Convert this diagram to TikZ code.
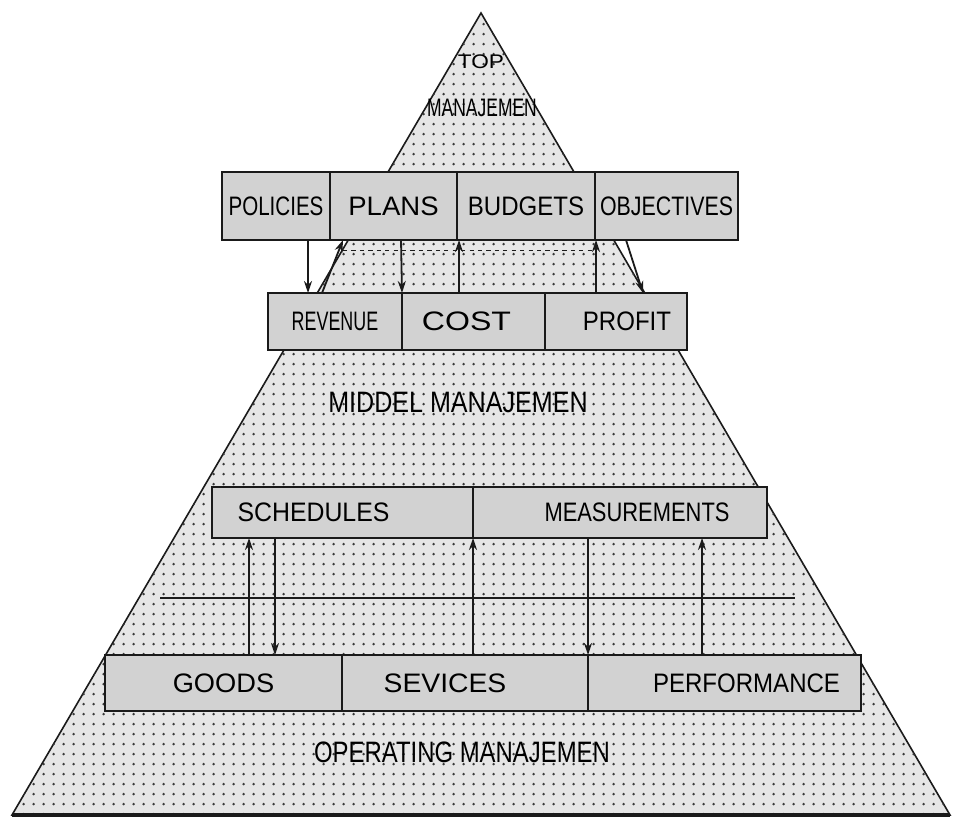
\documentclass[tikz,border=0pt]{standalone}
\usepackage{fontspec}
\setmainfont{Liberation Sans}
\usepackage{graphicx}
\usetikzlibrary{arrows.meta,positioning,patterns.meta}
\definecolor{ink}{HTML}{1A1A1A}
\definecolor{boxgray}{HTML}{D2D2D2}
\definecolor{pyrgray}{HTML}{E6E6E6}
\definecolor{dotgray}{HTML}{3A3A3A}
\newcommand{\hsq}[2]{\scalebox{#1}[1]{#2}}
\tikzdeclarepattern{
  name=dotgrid, type=uncolored,
  bounding box={(0,0) and (2.4mm,2.6mm)},
  tile size={(2.4mm,2.6mm)},
  code={\fill (1.2mm,1.3mm) circle (0.36mm);}
}
\tikzset{
  pyramid/.style={draw=ink,line width=0.4mm,fill=pyrgray,
                  postaction={pattern=dotgrid,pattern color=dotgray}},
  tierbox/.style={draw=ink,fill=boxgray,line width=0.5mm,
                  outer sep=0pt,inner sep=0pt,font=\fontsize{19}{21}\selectfont},
  planrow/.style={tierbox,minimum height=17mm},
  finrow/.style={tierbox,minimum height=14.25mm},
  schedrow/.style={tierbox,minimum height=12.75mm},
  outrow/.style={tierbox,minimum height=14mm},
  levellbl/.style={font=\fontsize{21}{23}\selectfont,inner sep=1pt},
  arr/.style={-{Stealth[length=3mm,width=2mm]},line width=0.45mm,draw=ink}
}

\begin{document}
\begin{tikzpicture}[x=0.25mm,y=-0.25mm]
  \useasboundingbox (0,0) rectangle (957,818);
  % pyramid
  \draw[pyramid] (481,13) -- (950,815) -- (12,815) -- cycle;
  \draw[ink,line width=0.8mm] (12,815) -- (950,815);
  \draw[ink,line width=0.25mm,dashed] (343,250) -- (592,250);
  \draw[ink,line width=0.55mm] (160,598) -- (795,598);

  \node[levellbl,font=\fontsize{14}{16}\selectfont] (toptxt) at (481,62) {\hsq{1.15}{TOP}};
  \node[levellbl,font=\fontsize{18}{20}\selectfont] (topmgr) at (482,108) {\hsq{0.69}{MANAJEMEN}};
  \node[levellbl] (midmgr) at (458,402) {\hsq{0.85}{MIDDEL MANAJEMEN}};
  \node[levellbl] (opmgr) at (462,752) {\hsq{0.81}{OPERATING MANAJEMEN}};

  % plans row
  \node[planrow,minimum width=27mm] (pol) at (276,206) {\hsq{0.77}{POLICIES}};
  \node[planrow,minimum width=31.75mm,right=0pt of pol] (plan) {\hsq{1.03}{PLANS}};
  \node[planrow,minimum width=34.5mm,right=0pt of plan] (bud) {\hsq{0.9}{BUDGETS}};
  \node[planrow,minimum width=35.75mm,right=0pt of bud] (obj) {\hsq{0.8}{OBJECTIVES}};

  % revenue row
  \node[finrow,minimum width=33.5mm] (rev) at (335,321.5) {\hsq{0.67}{REVENUE}};
  \node[finrow,minimum width=35.75mm,right=0pt of rev] (cost) {\hsq{1.2}{COST}\hspace*{3.5mm}};
  \node[finrow,minimum width=35.5mm,right=0pt of cost] (prof) {\hspace*{5.5mm}\hsq{0.9}{PROFIT}};

  % schedules row
  \node[schedrow,minimum width=65.25mm] (sch) at (342.5,512.5) {\hsq{0.93}{SCHEDULES}\hspace*{14.5mm}};
  \node[schedrow,minimum width=73.5mm,right=0pt of sch] (meas) {\hspace*{8.5mm}\hsq{0.82}{MEASUREMENTS}};

  % output row
  \node[outrow,minimum width=59.25mm] (good) at (223.5,683) {\hsq{1.02}{GOODS}};
  \node[outrow,minimum width=61.5mm,right=0pt of good] (sev) {\hsq{1.06}{SEVICES}\hspace*{10mm}};
  \node[outrow,minimum width=68.25mm,right=0pt of sev] (perf) {\hspace*{11mm}\hsq{0.9}{PERFORMANCE}};

  % top links
  \draw[arr] (pol.south -| 308,0) -- (rev.north -| 308,0);
  \draw[arr] (rev.north -| 322,0) -- (plan.south -| 343,0);
  \draw[arr] (plan.south -| 401,0) -- (cost.north west);
  \draw[arr] (cost.north -| 459,0) -- (bud.south -| 459,0);
  \draw[arr] (prof.north -| 596,0) -- (obj.south -| 596,0);
  \draw[arr] (obj.south -| 626,0) -- (prof.north -| 643,0);

  % bottom links
  \draw[arr] (good.north -| 249,0) -- (sch.south -| 249,0);
  \draw[arr] (sch.south -| 275,0) -- (good.north -| 275,0);
  \draw[arr] (sev.north -| 473,0) -- (sch.south east);
  \draw[arr] (meas.south -| 588,0) -- (perf.north west);
  \draw[arr] (perf.north -| 702,0) -- (meas.south -| 702,0);
\end{tikzpicture}
\end{document}
